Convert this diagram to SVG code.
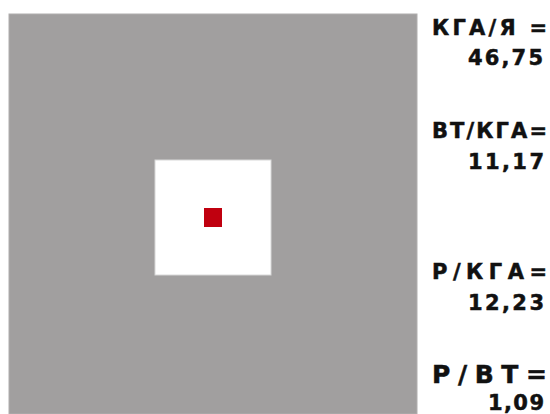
<svg xmlns="http://www.w3.org/2000/svg" width="550" height="414" viewBox="0 0 550 414">
<style>
.t{font-family:"DejaVu Sans","Liberation Sans",sans-serif;font-weight:bold;font-size:21px;fill:#111;stroke:#111;stroke-width:0.5px}
.big{font-size:25px}
</style>
<rect width="550" height="414" fill="#ffffff"/>
<g id="outer">
<rect x="9" y="14" width="408" height="400" fill="#a19f9f" stroke="#b0aeae" stroke-width="1"/>
</g>
<g id="inner">
<rect x="155" y="160" width="116" height="115" fill="#ffffff" stroke="#d8d8d8" stroke-width="1"/>
</g>
<g id="core">
<rect x="204" y="208" width="18" height="19" fill="#c0000f"/>
</g>
<g id="labels">
<text class="t" x="432" y="35" textLength="115" lengthAdjust="spacing">КГА/Я =</text>
<text class="t" x="468" y="65" textLength="75" lengthAdjust="spacing">46,75</text>
<text class="t" x="432" y="138" textLength="115" lengthAdjust="spacing">ВТ/КГА=</text>
<text class="t" x="468" y="169" textLength="76" lengthAdjust="spacing">11,17</text>
<text class="t" x="432" y="279" textLength="115" lengthAdjust="spacing">Р/КГА=</text>
<text class="t" x="468" y="310" textLength="76" lengthAdjust="spacing">12,23</text>
<text class="t big" x="432" y="383" textLength="115" lengthAdjust="spacing">Р/ВТ=</text>
<text class="t" x="488" y="410" textLength="56" lengthAdjust="spacing">1,09</text>
</g>
</svg>
